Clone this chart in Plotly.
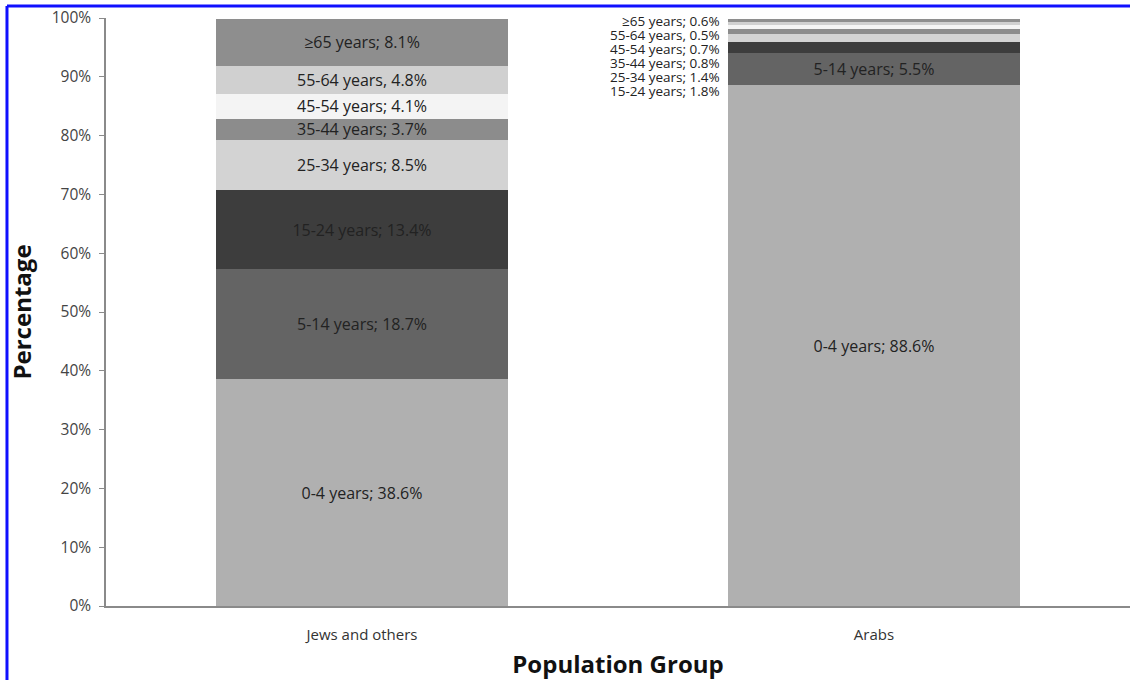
import plotly.graph_objects as go

groups = ["Jews and others", "Arabs"]
age_groups = ["0-4 years", "5-14 years", "15-24 years", "25-34 years",
              "35-44 years", "45-54 years", "55-64 years", "≥65 years"]
jews = [38.6, 18.7, 13.4, 8.5, 3.7, 4.1, 4.8, 8.1]
arabs = [88.6, 5.5, 1.8, 1.4, 0.8, 0.7, 0.5, 0.6]
seps = ["; ", "; ", "; ", "; ", "; ", "; ", ", ", "; "]
colors = ["#b0b0b0", "#646464", "#3d3d3d", "#d3d3d3",
          "#8c8c8c", "#f4f4f4", "#d0d0d0", "#8e8e8e"]
arab_inside = [True, True, False, False, False, False, False, False]
tick_vals = [0, 10, 20, 30, 40, 50, 60, 70, 80, 90, 100]
tick_text = [f"{v}%" for v in tick_vals]

FONT = "Open Sans"
fig = go.Figure()
for i, age in enumerate(age_groups):
    lab_j = f"{age}{seps[i]}{jews[i]}%"
    lab_a = f"{age}{seps[i]}{arabs[i]}%" if arab_inside[i] else ""
    fig.add_trace(go.Bar(
        x=groups, y=[jews[i], arabs[i]], name=age,
        marker=dict(color=colors[i], line=dict(width=0)),
        text=[lab_j, lab_a], textposition="inside", insidetextanchor="middle",
        textangle=0, constraintext="none",
        textfont=dict(family=FONT, size=16, color="#222"),
        hoverinfo="skip",
    ))

# outside labels for small Arab segments
outside = [i for i in range(len(age_groups)) if not arab_inside[i]]
for k, i in enumerate(reversed(outside)):
    fig.add_annotation(
        x="Arabs", y=99.5 - k * 2.38, xref="x", yref="y",
        text=f"{age_groups[i]}{seps[i]}{arabs[i]}%",
        showarrow=False, xanchor="right", yanchor="middle", xshift=-152,
        font=dict(family=FONT, size=13.5, color="#222"),
    )

# blue frame lines
fig.add_shape(type="line", xref="paper", yref="paper",
              x0=-0.0967, x1=1.0, y0=1.0204, y1=1.0204,
              line=dict(color="#1010ff", width=3))
fig.add_shape(type="line", xref="paper", yref="paper",
              x0=-0.0967, x1=-0.0967, y0=-0.13, y1=1.0204,
              line=dict(color="#1010ff", width=3))

fig.update_layout(
    barmode="stack", bargap=0.428, showlegend=False,
    width=1130, height=680,
    margin=dict(l=106, r=0, t=18, b=74),
    plot_bgcolor="white", paper_bgcolor="white",
    font=dict(family=FONT, color="#333"),
    xaxis=dict(
        showline=True, linecolor="#8a8a8a", linewidth=1.5,
        ticks="", ticklabelstandoff=14, automargin=False,
        tickfont=dict(size=15, color="#333", family=FONT),
        title=dict(text="<b>Population Group</b>", standoff=15,
                   font=dict(size=24, color="#111", family=FONT)),
    ),
    yaxis=dict(
        range=[0, 100], tickvals=tick_vals, ticktext=tick_text,
        showline=True, linecolor="#8a8a8a", linewidth=1.5,
        ticks="outside", ticklen=5, tickcolor="#8a8a8a",
        ticklabelstandoff=5, automargin=False,
        showgrid=False, zeroline=False,
        tickfont=dict(size=15.5, color="#444", family=FONT),
        title=dict(text="<b>Percentage</b>", standoff=13,
                   font=dict(size=24, color="#111", family=FONT)),
    ),
)

fig.write_html("out.html")
